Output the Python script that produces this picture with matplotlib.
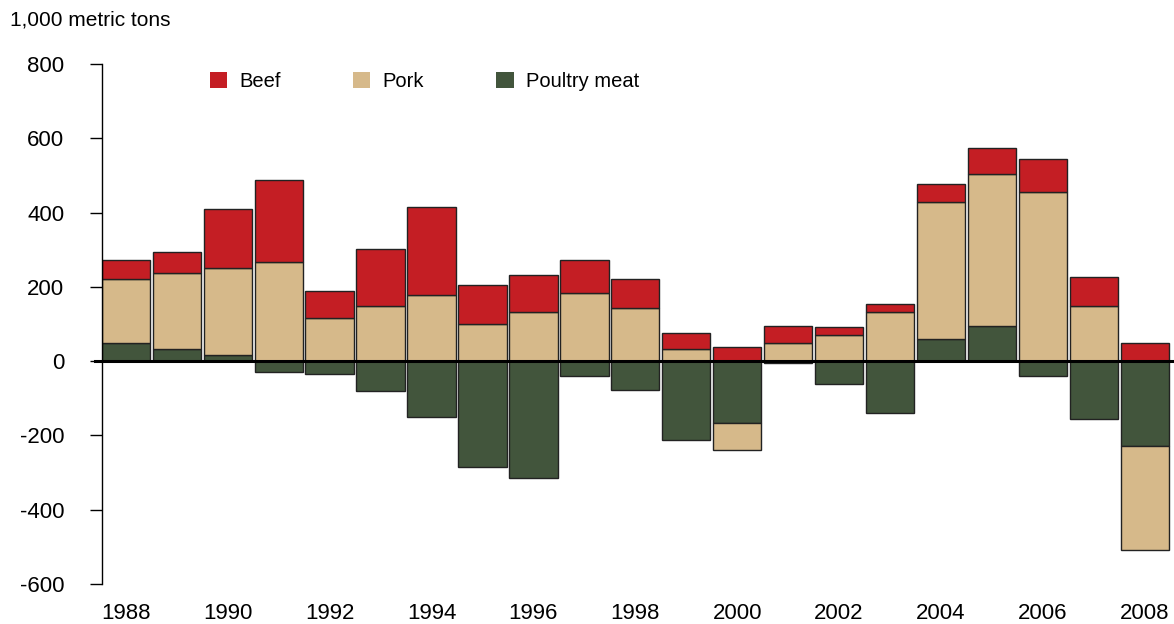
import numpy as np
import matplotlib
matplotlib.use("Agg")
import matplotlib.pyplot as plt
from matplotlib.patches import Patch

plt.rcParams["font.family"] = ["Liberation Sans", "DejaVu Sans"]
plt.rcParams["axes.unicode_minus"] = False

# ===================== data (1,000 metric tons) =====================
years = list(range(1988, 2009))
poultry = [48, 32, 16, -30, -35, -82, -150, -286, -316, -40, -77,
           -213, -167, -4, -62, -140, 59, 95, -40, -155, -228]
pork = [172, 204, 235, 267, 115, 147, 178, 100, 131, 184, 142,
        32, -72, 48, 69, 131, 370, 408, 456, 147, -282]
beef = [52, 57, 158, 220, 74, 156, 236, 104, 100, 89, 79,
        43, 38, 47, 22, 22, 48, 72, 88, 79, 48]
tick_years = list(range(1988, 2009, 2))

colors = {"Beef": "#C41E24", "Pork": "#D6B98A", "Poultry meat": "#42553C"}

# ===================== stacked bars =====================
fig = plt.figure(figsize=(11.74, 6.24), dpi=100)
ax = fig.add_axes([101.7 / 1174, 1 - 583.8 / 624, 1070 / 1174, (583.8 - 64) / 624])

x = np.arange(len(years))
pos_base = np.zeros(len(years))
neg_base = np.zeros(len(years))
for name, vals in [("Poultry meat", poultry), ("Pork", pork), ("Beef", beef)]:
    vals = np.array(vals, dtype=float)
    base = np.where(vals >= 0, pos_base, neg_base)
    ax.bar(x, vals, bottom=base, width=0.95, color=colors[name],
           edgecolor="#222222", linewidth=1)
    pos_base = pos_base + np.where(vals > 0, vals, 0)
    neg_base = neg_base + np.where(vals < 0, vals, 0)

ax.axhline(0, color="black", linewidth=2.2, xmin=-0.006, clip_on=False, zorder=5)

ax.set_xlim(-0.475, 20.53)
ax.set_ylim(-600, 800)
ax.set_yticks(range(-600, 801, 200))
ax.set_xticks([years.index(y) for y in tick_years])
ax.set_xticklabels([str(y) for y in tick_years])

for s in ["top", "right", "bottom"]:
    ax.spines[s].set_visible(False)
ax.spines["left"].set_linewidth(1)
ax.tick_params(axis="y", length=9, width=1, pad=18, labelsize=16)
ax.tick_params(axis="x", length=0, pad=14, labelsize=16)

fig.text(10 / 1174, 1 - 20 / 624, "1,000 metric tons", fontsize=15, va="center", ha="left")

handles = [Patch(facecolor=colors[k]) for k in ["Beef", "Pork", "Poultry meat"]]
ax.legend(handles, ["Beef", "Pork", "Poultry meat"], ncol=3, frameon=False,
          loc="center left", bbox_to_anchor=(210 / 1174, 1 - 81.5 / 624),
          bbox_transform=fig.transFigure, fontsize=14.5, borderpad=0,
          handlelength=0.85, handleheight=0.85, handletextpad=0.6,
          columnspacing=3.6, borderaxespad=0)

fig.savefig("out.png", dpi=100)
